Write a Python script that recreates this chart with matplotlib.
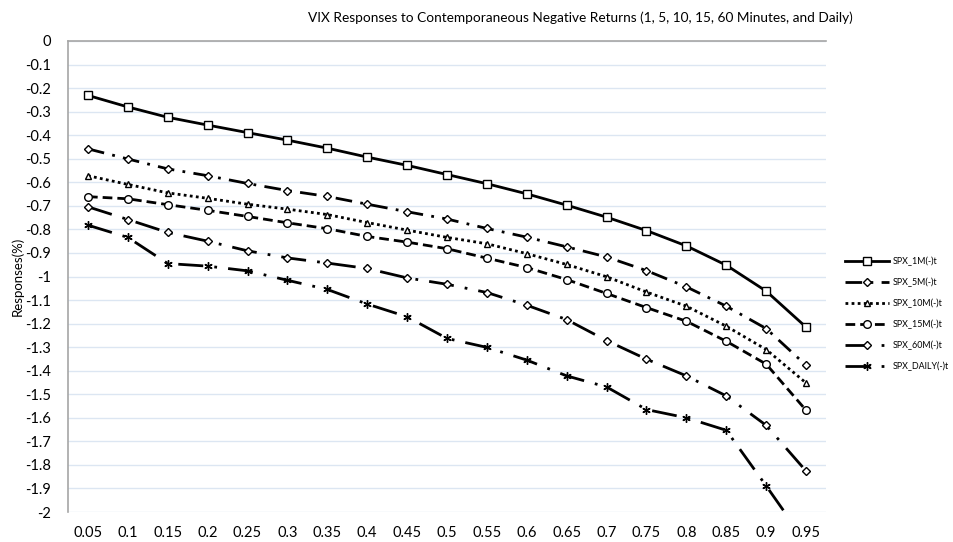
import matplotlib
matplotlib.use("Agg")
import matplotlib.pyplot as plt

plt.rcParams['font.family'] = ['Lato', 'DejaVu Sans']

categories = ["0.05", "0.1", "0.15", "0.2", "0.25", "0.3", "0.35", "0.4", "0.45", "0.5",
              "0.55", "0.6", "0.65", "0.7", "0.75", "0.8", "0.85", "0.9", "0.95"]

spx_1m = [-0.231, -0.280, -0.324, -0.357, -0.389, -0.421, -0.455, -0.493, -0.528, -0.567,
          -0.606, -0.649, -0.697, -0.748, -0.805, -0.870, -0.952, -1.062, -1.215]
spx_5m = [-0.458, -0.501, -0.543, -0.572, -0.605, -0.635, -0.660, -0.693, -0.725, -0.756,
          -0.796, -0.833, -0.874, -0.917, -0.975, -1.044, -1.126, -1.221, -1.377]
spx_10m = [-0.572, -0.609, -0.645, -0.668, -0.693, -0.714, -0.737, -0.771, -0.803, -0.834,
           -0.861, -0.903, -0.949, -1.001, -1.066, -1.126, -1.211, -1.310, -1.452]
spx_15m = [-0.661, -0.670, -0.695, -0.719, -0.745, -0.772, -0.797, -0.830, -0.854, -0.882,
           -0.922, -0.962, -1.013, -1.072, -1.132, -1.190, -1.275, -1.372, -1.568]
spx_60m = [-0.704, -0.758, -0.813, -0.850, -0.891, -0.921, -0.943, -0.966, -1.006, -1.033,
           -1.068, -1.122, -1.183, -1.272, -1.351, -1.422, -1.507, -1.632, -1.826]
spx_daily = [-0.782, -0.834, -0.945, -0.956, -0.976, -1.016, -1.055, -1.117, -1.171, -1.263,
             -1.301, -1.355, -1.422, -1.469, -1.565, -1.600, -1.653, -1.889, -2.130]

series_names = ["SPX_1M(-)t", "SPX_5M(-)t", "SPX_10M(-)t", "SPX_15M(-)t", "SPX_60M(-)t", "SPX_DAILY(-)t"]
series_values = [spx_1m, spx_5m, spx_10m, spx_15m, spx_60m, spx_daily]

y_ticks = [0, -0.1, -0.2, -0.3, -0.4, -0.5, -0.6, -0.7, -0.8, -0.9, -1, -1.1, -1.2,
           -1.3, -1.4, -1.5, -1.6, -1.7, -1.8, -1.9, -2]
y_tick_labels = ["0", "-0.1", "-0.2", "-0.3", "-0.4", "-0.5", "-0.6", "-0.7", "-0.8", "-0.9",
                 "-1", "-1.1", "-1.2", "-1.3", "-1.4", "-1.5", "-1.6", "-1.7", "-1.8", "-1.9", "-2"]

styles = [
    dict(linestyle='-', marker='s', ms=5.2),
    dict(linestyle=(0, (6, 3, 1, 3)), marker='D', ms=4.0),
    dict(linestyle=(0, (1, 1.2)), marker='^', ms=5.0),
    dict(linestyle=(0, (3.5, 1.8)), marker='o', ms=5.5),
    dict(linestyle=(0, (9, 4, 1, 4)), marker='D', ms=4.0),
    dict(linestyle=(0, (9, 4, 1, 4)), marker=(6, 2, 0), ms=6.0),
]

W, H = 954, 542
fig = plt.figure(figsize=(W / 100, H / 100), dpi=100)
ax = fig.add_axes([68 / W, 1 - 512 / H, (826 - 68) / W, (512 - 41) / H])

x = list(range(len(categories)))
for name, vals, st in zip(series_names, series_values, styles):
    ax.plot(x, vals, color='black', linewidth=2.0, linestyle=st['linestyle'],
            marker=st['marker'], markersize=st['ms'], markerfacecolor='white',
            markeredgecolor='black', markeredgewidth=1.0, label=name,
            clip_on=True, zorder=3)

ax.set_xlim(-0.5, len(categories) - 0.5)
ax.set_ylim(-2, 0)
ax.set_yticks(y_ticks)
ax.set_yticklabels(y_tick_labels)
ax.set_xticks(x)
ax.set_xticklabels(categories)
ax.tick_params(axis='both', length=0, labelsize=10.5, colors='black')
ax.tick_params(axis='x', pad=10)
ax.tick_params(axis='y', pad=12)
ax.yaxis.grid(True, color='#dce6f2', linewidth=1.0, zorder=0)
ax.set_axisbelow(True)
for side in ['right', 'bottom']:
    ax.spines[side].set_visible(False)
for side in ['left', 'top']:
    ax.spines[side].set_color('#a6a6a6')
    ax.spines[side].set_linewidth(1.2)

fig.text(17 / W, 1 - 276 / H, "Responses(%)", rotation=90, ha='center', va='center', fontsize=9.5)
fig.text(580 / W, 1 - 18 / H,
         "VIX Responses to Contemporaneous Negative Returns (1, 5, 10, 15, 60 Minutes, and Daily)",
         ha='center', va='center', fontsize=9.8)

leg = fig.legend(loc='upper left', bbox_to_anchor=(845 / W, 1 - 257 / H), frameon=False,
                 fontsize=6.4, handlelength=4.9, labelspacing=1.3, handletextpad=0.45,
                 borderaxespad=0, borderpad=0)

fig.savefig("out.png", dpi=100)
